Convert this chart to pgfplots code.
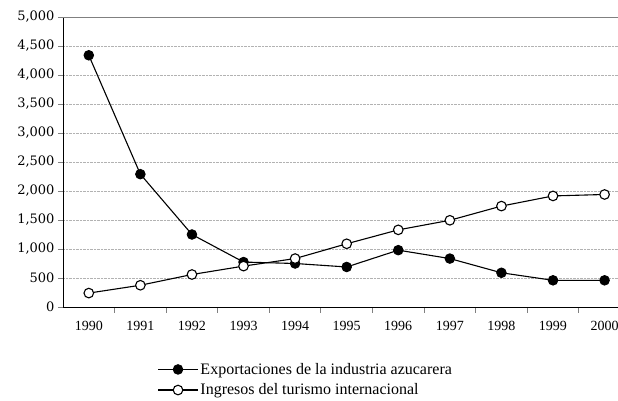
\documentclass[border=0pt]{standalone}
\usepackage{fontspec}
\setmainfont{Liberation Serif}
\newfontfamily\yfont{DejaVu Serif}
\usepackage{pgfplots}
\pgfplotsset{compat=1.18}
\begin{document}
\begin{tikzpicture}
\begin{axis}[
  at={(0,0)}, anchor=south west,
  scale only axis, width=555pt, height=290pt,
  xmin=1989.5, xmax=2000.26,
  ymin=0, ymax=5000,
  axis x line*=bottom, axis y line*=left,
  axis line style={-, line width=0.9pt},
  xtick={1990,...,2000},
  minor xtick={1990.5,1991.5,...,1999.5},
  major x tick style={draw=none},
  minor x tick style={line width=0.9pt},
  minor tick length=6pt,
  ytick={0,500,...,5000},
  major tick length=5pt,
  tick align=outside,
  y tick style={line width=0.9pt},
  ymajorgrids,
  grid style={densely dotted, gray!60, line width=0.6pt},
  extra y ticks={5000}, extra y tick labels={},
  extra y tick style={grid style={solid, gray, line width=0.9pt}, major tick length=0pt},
  /pgf/number format/assume math mode=true,
  /pgf/number format/1000 sep={,},
  xticklabel={\pgfmathprintnumber[1000 sep={}]{\tick}},
  xticklabel style={font=\fontsize{14}{14}\selectfont, yshift=-6pt},
  yticklabel style={font=\yfont\fontsize{13}{14}\selectfont, xshift=0pt},
  legend style={at={(axis description cs:0.170,-0.186)}, anchor=north west,
    draw=none, fill=none, font=\fontsize{16}{16}\selectfont,
    row sep=4pt, inner sep=0pt},
  legend cell align=left,
  legend image code/.code={\draw[mark repeat=2,mark phase=2,#1] plot coordinates {(0cm,0cm) (0.7cm,0cm) (1.4cm,0cm)};},
]
\addplot[black, line width=1.1pt, mark=*, mark size=4.8pt, mark options={fill=black, line width=0.9pt}]
coordinates {(1990,4340) (1991,2290) (1992,1250) (1993,775) (1994,750) (1995,690) (1996,980) (1997,835) (1998,590) (1999,460) (2000,460)};
\addlegendentry{Exportaciones de la industria azucarera}
\addplot[black, line width=1.1pt, mark=*, mark size=4.8pt, mark options={fill=white, line width=1.1pt}]
coordinates {(1990,240) (1991,375) (1992,560) (1993,705) (1994,835) (1995,1090) (1996,1330) (1997,1495) (1998,1740) (1999,1915) (2000,1940)};
\addlegendentry{Ingresos del turismo internacional}
\end{axis}
\pgfresetboundingbox
\path (-63pt,-94pt) rectangle (555pt,307pt);
\end{tikzpicture}
\end{document}
